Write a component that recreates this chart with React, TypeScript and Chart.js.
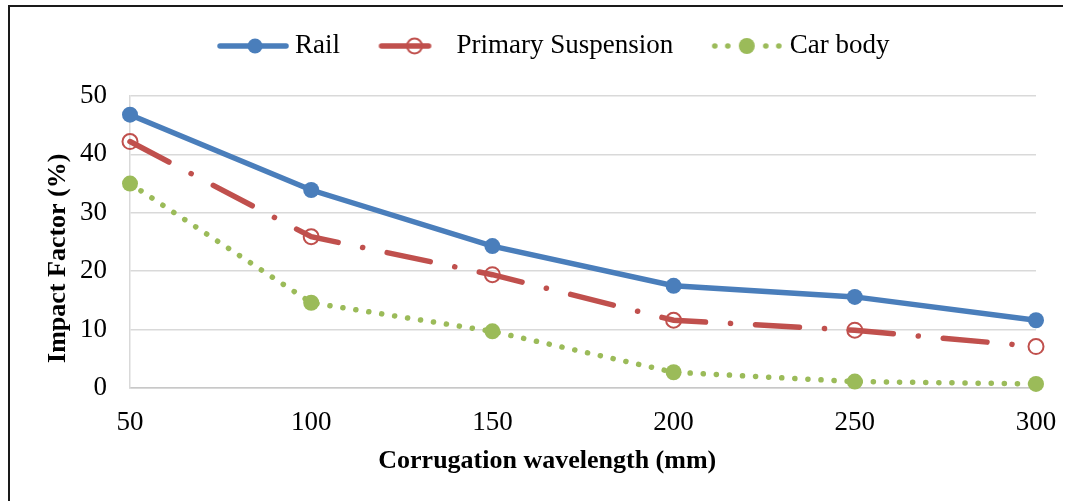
import { useEffect, useRef } from 'react';
import { Chart, registerables } from 'chart.js';

Chart.register(...registerables);

// Corrugation wavelength categories (mm)
const wavelengths = ['50', '100', '150', '200', '250', '300'];

// Impact factor (%) per component
const railValues = [46.8, 33.9, 24.3, 17.5, 15.6, 11.6];
const primaryValues = [42.2, 25.9, 19.4, 11.6, 9.9, 7.1];
const carBodyValues = [35.0, 14.6, 9.7, 2.7, 1.1, 0.7];

const seriesNames = ['Rail', 'Primary Suspension', 'Car body'];

const yMin = 0;
const yMax = 50;
const yStep = 10;

const RAIL = '#4a7ebb';
const RED = '#c0504d';
const GREEN = '#9bbb59';
const FONT = "'Liberation Serif', 'Times New Roman', serif";

// Axis titles are centred on the whole figure rather than on the plot area,
// so trailing blanks pull the visible text toward the start of each axis.
const xTitle = 'Corrugation wavelength (mm)' + ' '.repeat(11);
const yTitle = 'Impact Factor (%)' + ' '.repeat(5);

type SampleKind = 'rail' | 'primary' | 'car';

// Legend sample: short line segment with marker, drawn into a small canvas
function legendSample(kind: SampleKind): HTMLCanvasElement {
  const c = document.createElement('canvas');
  c.width = 108;
  c.height = 22;
  const ctx = c.getContext('2d')!;
  const x0 = c.width - 72;
  const cy = 11;
  ctx.lineCap = 'round';
  if (kind === 'rail') {
    ctx.strokeStyle = RAIL;
    ctx.lineWidth = 5.5;
    ctx.beginPath();
    ctx.moveTo(x0 + 3, cy);
    ctx.lineTo(x0 + 69, cy);
    ctx.stroke();
    ctx.fillStyle = RAIL;
    ctx.beginPath();
    ctx.arc(x0 + 38, cy, 7.5, 0, Math.PI * 2);
    ctx.fill();
  } else if (kind === 'primary') {
    ctx.strokeStyle = RED;
    ctx.lineWidth = 5.5;
    ctx.beginPath();
    ctx.moveTo(x0 + 3, cy);
    ctx.lineTo(x0 + 50, cy);
    ctx.stroke();
    ctx.lineWidth = 2;
    ctx.beginPath();
    ctx.arc(x0 + 36, cy, 7.5, 0, Math.PI * 2);
    ctx.stroke();
  } else {
    ctx.fillStyle = GREEN;
    [3, 16, 54, 67].forEach((dx) => {
      ctx.beginPath();
      ctx.arc(x0 + dx, cy, 2.8, 0, Math.PI * 2);
      ctx.fill();
    });
    ctx.beginPath();
    ctx.arc(x0 + 35, cy, 8, 0, Math.PI * 2);
    ctx.fill();
  }
  return c;
}

// Adds room between the legend row and the plot area, and nudges the row right
const legendSpacer = {
  id: 'legendSpacer',
  beforeLayout(chart: any) {
    const legend = chart.legend;
    if (legend && !legend.__spaced) {
      const fit = legend.fit;
      legend.fit = function () {
        fit.call(this);
        this.height += 26.5;
      };
      legend.__spaced = true;
    }
  },
  afterLayout(chart: any) {
    const legend = chart.legend;
    if (legend) {
      legend.left += 16;
      legend.right += 16;
    }
  },
};

export default function App() {
  const canvasRef = useRef<HTMLCanvasElement | null>(null);

  useEffect(() => {
    if (!canvasRef.current) return;
    const samples = [legendSample('rail'), legendSample('primary'), legendSample('car')];

    const chart = new Chart(canvasRef.current, {
      type: 'line',
      data: {
        labels: wavelengths,
        datasets: [
          {
            label: seriesNames[0],
            data: railValues,
            borderColor: RAIL,
            borderWidth: 5.5,
            pointRadius: 8,
            pointBackgroundColor: RAIL,
            pointBorderColor: RAIL,
            pointBorderWidth: 0,
            tension: 0,
            clip: false,
          },
          {
            label: seriesNames[1],
            data: primaryValues,
            borderColor: RED,
            borderWidth: 5.5,
            borderDash: [44, 25, 0.1, 25],
            borderCapStyle: 'round',
            pointRadius: 7.5,
            pointBackgroundColor: 'rgba(0,0,0,0)',
            pointBorderColor: RED,
            pointBorderWidth: 2,
            tension: 0,
            clip: false,
          },
          {
            label: seriesNames[2],
            data: carBodyValues,
            borderColor: GREEN,
            borderWidth: 5.5,
            borderDash: [0.1, 13],
            borderCapStyle: 'round',
            pointRadius: 8,
            pointBackgroundColor: GREEN,
            pointBorderColor: GREEN,
            pointBorderWidth: 0,
            tension: 0,
            clip: false,
          },
        ],
      },
      options: {
        responsive: false,
        animation: false,
        events: [],
        layout: { padding: { top: 15.5, right: 27, left: 0, bottom: 0 } },
        plugins: {
          tooltip: { enabled: false },
          legend: {
            position: 'top',
            labels: {
              usePointStyle: true,
              pointStyleWidth: 93,
              padding: 10,
              color: '#000',
              font: { family: FONT, size: 27 },
              generateLabels: (ch: any) =>
                ch.data.datasets.map((ds: any, i: number) => ({
                  text: ds.label,
                  pointStyle: samples[i],
                  fillStyle: ds.borderColor,
                  strokeStyle: ds.borderColor,
                  lineWidth: 0,
                  hidden: false,
                  datasetIndex: i,
                  fontColor: '#000',
                })),
            },
          },
        },
        scales: {
          x: {
            type: 'category',
            offset: false,
            grid: { display: false, drawTicks: false },
            border: { display: true, color: '#c8c8c8', width: 1.5 },
            ticks: { padding: 19, color: '#000', font: { family: FONT, size: 27 } },
            title: {
              display: true,
              text: xTitle,
              color: '#000',
              font: { family: FONT, size: 26, weight: 'bold' },
              padding: { top: 0, bottom: 24 },
            },
            afterFit: (s: any) => {
              s.height = 113;
              s.paddingLeft = 0;
              s.paddingRight = 10;
            },
          },
          y: {
            min: yMin,
            max: yMax,
            ticks: {
              stepSize: yStep,
              padding: 23,
              color: '#000',
              font: { family: FONT, size: 27 },
            },
            grid: { color: '#d9d9d9', lineWidth: 1.5, drawTicks: false },
            border: { color: '#d9d9d9', width: 1.5 },
            title: {
              display: true,
              text: yTitle,
              color: '#000',
              font: { family: FONT, size: 26, weight: 'bold' },
              padding: { top: 33, bottom: 0 },
            },
            afterFit: (s: any) => {
              s.width = 120;
            },
          },
        },
      },
      plugins: [legendSpacer],
    } as any);

    return () => chart.destroy();
  }, []);

  return (
    <div
      style={{
        position: 'absolute',
        top: 5,
        left: 8,
        width: 1055,
        height: 496,
        boxSizing: 'border-box',
        borderTop: '2px solid #1a1a1a',
        borderLeft: '2px solid #1a1a1a',
        background: '#fff',
      }}
    >
      <canvas ref={canvasRef} width={1053} height={494} style={{ display: 'block' }} />
    </div>
  );
}
